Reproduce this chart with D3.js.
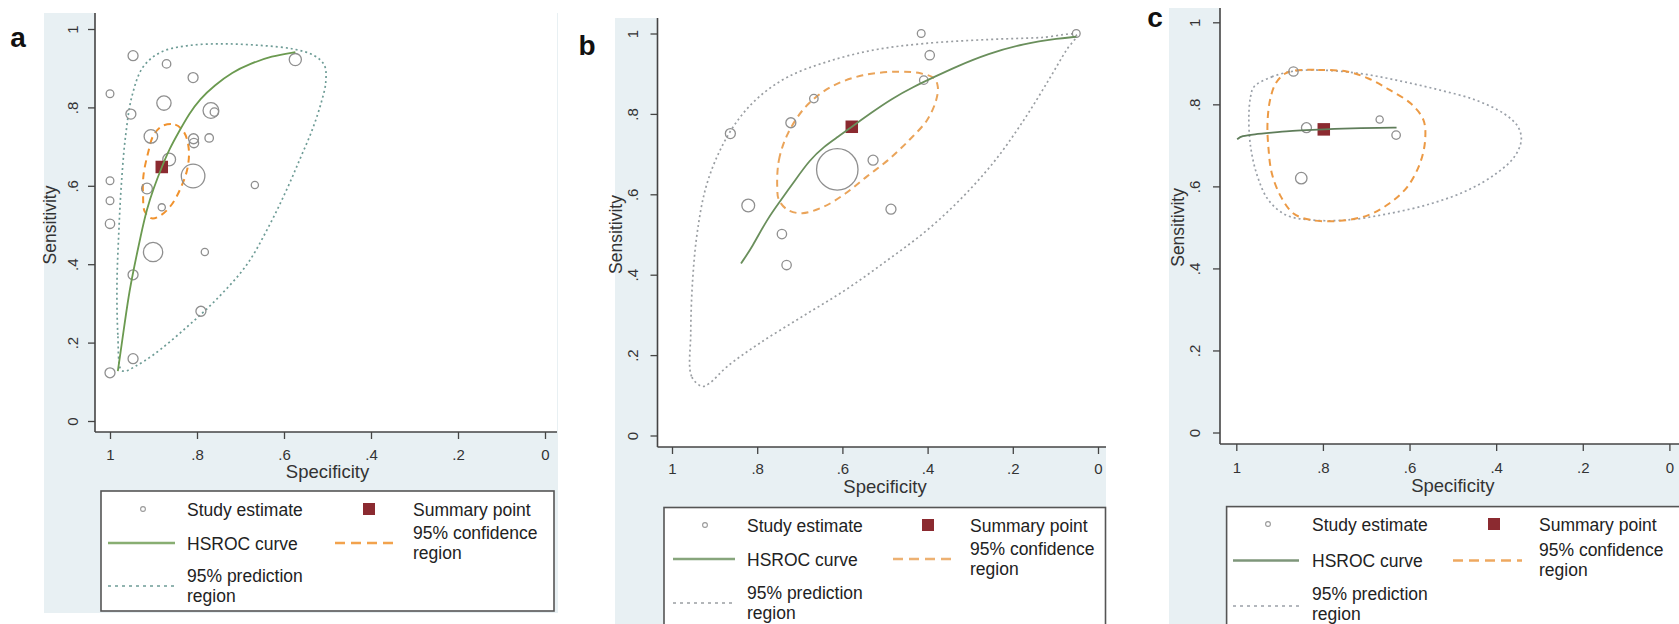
<!DOCTYPE html>
<html>
<head>
<meta charset="utf-8">
<script src="https://cdn.jsdelivr.net/npm/d3@7"></script>
<style>
  body { margin: 0; background: #ffffff; }
  svg { display: block; font-family: "Liberation Sans", Arial, sans-serif; }
</style>
</head>
<body>
<svg id="chart" width="1679" height="624"></svg>
<script>
// ---------------- shared labels ----------------
const tickValues = [0, 0.2, 0.4, 0.6, 0.8, 1];
const tickLabels = ["0", ".2", ".4", ".6", ".8", "1"];
const xTitle = "Specificity";
const yTitle = "Sensitivity";
const panelLabels = ["a", "b", "c"];
const legendStudy = "Study estimate";
const legendSummary = "Summary point";
const legendHsroc = "HSROC curve";
const legendConf = ["95% confidence", "region"];
const legendPred = ["95% prediction", "region"];

// ---------------- panel a data ----------------
const aStudySpec = [0.947,0.870,0.809,0.574,1.000,0.876,0.952,0.768,0.760,0.906,0.808,0.807,0.772,0.864,0.809,0.915,1.000,1.000,1.000,0.881,0.667,0.901,0.782,0.947,0.791,0.947,1.000];
const aStudySens = [0.932,0.911,0.876,0.922,0.835,0.811,0.783,0.792,0.788,0.726,0.720,0.709,0.722,0.667,0.625,0.593,0.613,0.562,0.503,0.545,0.602,0.431,0.431,0.373,0.280,0.159,0.123];
const aStudyWeight = [25,18,25,37,15,51,25,62,18,46,25,22,18,41,139,29,15,15,22,13,13,93,13,25,25,25,25];
const aSummary = [0.881, 0.648];
const aCurveSpec = [0.982,0.970,0.957,0.945,0.929,0.915,0.900,0.881,0.863,0.842,0.818,0.793,0.760,0.719,0.678,0.629,0.574];
const aCurveSens = [0.127,0.220,0.322,0.390,0.475,0.542,0.593,0.648,0.695,0.737,0.784,0.822,0.856,0.890,0.911,0.931,0.941];
const aConfSpec = [0.879,0.850,0.830,0.819,0.822,0.838,0.859,0.883,0.904,0.920,0.924,0.923,0.912,0.900];
const aConfSens = [0.753,0.756,0.737,0.695,0.644,0.593,0.551,0.525,0.517,0.534,0.576,0.627,0.686,0.729];
const aPredSpec = [0.975,0.982,0.984,0.980,0.974,0.964,0.949,0.924,0.883,0.818,0.735,0.653,0.579,0.530,0.507,0.504,0.514,0.534,0.563,0.596,0.637,0.686,0.752,0.826,0.900,0.941,0.966];
const aPredSens = [0.131,0.220,0.347,0.475,0.602,0.729,0.831,0.903,0.941,0.958,0.962,0.958,0.949,0.932,0.907,0.864,0.814,0.746,0.669,0.585,0.492,0.398,0.314,0.237,0.169,0.140,0.127];

// ---------------- panel b data ----------------
const bStudySpec = [0.415,0.051,0.395,0.409,0.667,0.721,0.863,0.612,0.528,0.821,0.486,0.742,0.731];
const bStudySens = [1.000,1.000,0.946,0.884,0.838,0.778,0.751,0.662,0.685,0.572,0.563,0.501,0.424];
const bStudyWeight = [15,15,22,18,18,25,25,429,25,41,25,22,22];
const bSummary = [0.578, 0.768];
const bCurveSpec = [0.838,0.811,0.778,0.744,0.711,0.677,0.644,0.610,0.578,0.535,0.484,0.434,0.384,0.334,0.258,0.174,0.091,0.051];
const bCurveSens = [0.428,0.470,0.536,0.586,0.635,0.685,0.718,0.743,0.768,0.801,0.838,0.867,0.892,0.917,0.950,0.975,0.988,0.992];
const bConfSpec = [0.753,0.749,0.728,0.686,0.627,0.552,0.468,0.417,0.384,0.376,0.380,0.401,0.443,0.493,0.543,0.593,0.644,0.694,0.728,0.749];
const bConfSens = [0.619,0.685,0.751,0.818,0.867,0.896,0.905,0.901,0.888,0.867,0.834,0.785,0.735,0.685,0.644,0.602,0.569,0.553,0.561,0.586];
const bPredSpec = [0.929,0.954,0.956,0.952,0.941,0.920,0.887,0.845,0.795,0.728,0.635,0.526,0.409,0.258,0.132,0.051,0.074,0.116,0.174,0.241,0.317,0.401,0.493,0.593,0.694,0.795,0.870,0.912];
const bPredSens = [0.122,0.147,0.254,0.379,0.503,0.619,0.710,0.785,0.843,0.892,0.930,0.959,0.975,0.985,0.990,0.996,0.959,0.884,0.785,0.685,0.594,0.511,0.437,0.362,0.296,0.229,0.172,0.130];

// ---------------- panel c data ----------------
const cStudySpec = [0.868,0.838,0.669,0.631,0.850];
const cStudySens = [0.880,0.743,0.763,0.725,0.620];
const cStudyWeight = [22,25,13,18,33];
const cSummary = [0.798, 0.739];
const cCurveSpec = [0.998,0.988,0.959,0.918,0.877,0.838,0.798,0.753,0.712,0.671,0.630];
const cCurveSens = [0.715,0.723,0.727,0.731,0.735,0.737,0.739,0.741,0.742,0.743,0.743];
const cConfSpec = [0.868,0.811,0.745,0.695,0.646,0.597,0.568,0.564,0.576,0.605,0.646,0.695,0.761,0.827,0.868,0.897,0.918,0.926,0.928,0.922,0.909,0.889];
const cConfSens = [0.882,0.884,0.880,0.863,0.835,0.802,0.762,0.713,0.656,0.599,0.559,0.530,0.516,0.518,0.534,0.575,0.632,0.697,0.754,0.811,0.851,0.874];
const cPredSpec = [0.959,0.918,0.860,0.778,0.695,0.613,0.531,0.449,0.383,0.350,0.342,0.358,0.399,0.465,0.547,0.646,0.745,0.827,0.885,0.926,0.951,0.967,0.971,0.967];
const cPredSens = [0.843,0.867,0.882,0.882,0.872,0.855,0.835,0.811,0.778,0.746,0.713,0.672,0.632,0.591,0.559,0.534,0.518,0.518,0.530,0.567,0.624,0.697,0.770,0.819];

// ---------------- layout (positions / styles only) ----------------
const BG = "#e8f0f3";
const LEG_FONT = 17.5;
const layouts = [
  { label: {x: 18, y: 47},
    bg: [44, 13, 558, 613], plot: [95, 13, 557, 432],
    xr: [110, 545], yr: [421, 29],
    yLblD: 17, xLblDy: 28, xTitleY: 478, yTitleX: 56,
    conf: "#f0922e", pred: "#6e9c96", hsroc: "#6b9a50",
    leg: { box: [101, 491, 554, 611], sym1: 143, txt1: 187, sym2: 369, txt2: 413,
           lineX: [108, 175], dashX: [335, 397], symY: 509, r1: 516, r2: 550,
           c1: 539, c2: 559, p1: 582, p2: 602, lineY: 543, predY: 586 } },
  { label: {x: 587, y: 55},
    bg: [615, 18, 1106, 624], plot: [657.5, 18, 1106, 447],
    xr: [672, 1098], yr: [435.5, 33.5],
    yLblD: 20, xLblDy: 27, xTitleY: 493, yTitleX: 622,
    conf: "#eaa45a", pred: "#9a9ea2", hsroc: "#6a8f5c",
    leg: { box: [664, 507.5, 1105.5, 632], sym1: 705, txt1: 747, sym2: 928, txt2: 970,
           lineX: [673, 735], dashX: [893, 953], symY: 525, r1: 532, r2: 566,
           c1: 555, c2: 575, p1: 599, p2: 619, lineY: 559, predY: 603 } },
  { label: {x: 1155, y: 27},
    bg: [1169, 8, 1679, 624], plot: [1220, 8, 1679, 444],
    xr: [1236.3, 1669.4], yr: [432.5, 22.3],
    yLblD: 20, xLblDy: 29, xTitleY: 492, yTitleX: 1184,
    conf: "#ec9a45", pred: "#9aa0a8", hsroc: "#5f7d5a",
    leg: { box: [1226.6, 506.6, 1682, 632], sym1: 1268, txt1: 1312, sym2: 1494, txt2: 1539,
           lineX: [1233, 1299], dashX: [1453, 1522], symY: 524, r1: 531, r2: 567,
           c1: 556, c2: 576, p1: 600, p2: 620, lineY: 560.5, predY: 606 } }
];

const panels = [
  { study: [aStudySpec, aStudySens, aStudyWeight], summary: aSummary,
    curve: [aCurveSpec, aCurveSens], confR: [aConfSpec, aConfSens], predR: [aPredSpec, aPredSens] },
  { study: [bStudySpec, bStudySens, bStudyWeight], summary: bSummary,
    curve: [bCurveSpec, bCurveSens], confR: [bConfSpec, bConfSens], predR: [bPredSpec, bPredSens] },
  { study: [cStudySpec, cStudySens, cStudyWeight], summary: cSummary,
    curve: [cCurveSpec, cCurveSens], confR: [cConfSpec, cConfSens], predR: [cPredSpec, cPredSens] }
];

// ---------------- drawing ----------------
const svg = d3.select("#chart");
const fmt = d => tickLabels[tickValues.indexOf(d)];
const rScale = d3.scaleSqrt().domain([0, 100]).range([0, 10]);
const zip = (xs, ys) => xs.map((v, i) => [v, ys[i]]);

panels.forEach((p, i) => {
  const L = layouts[i];
  const g = svg.append("g");

  g.append("rect").attr("x", L.bg[0]).attr("y", L.bg[1])
    .attr("width", L.bg[2] - L.bg[0]).attr("height", L.bg[3] - L.bg[1]).attr("fill", BG);
  g.append("rect").attr("x", L.plot[0]).attr("y", L.plot[1])
    .attr("width", L.plot[2] - L.plot[0]).attr("height", L.plot[3] - L.plot[1]).attr("fill", "#ffffff");

  g.append("text").attr("x", L.label.x).attr("y", L.label.y)
    .attr("text-anchor", "middle").attr("font-size", 28).attr("font-weight", "bold")
    .attr("fill", "#111").text(panelLabels[i]);

  const x = d3.scaleLinear().domain([1, 0]).range(L.xr);
  const y = d3.scaleLinear().domain([0, 1]).range(L.yr);

  // x axis
  const xa = g.append("g").attr("transform", `translate(0,${L.plot[3]})`)
    .call(d3.axisBottom(x).tickValues(tickValues).tickFormat(fmt).tickSize(7).tickSizeOuter(0));
  xa.attr("font-family", null).attr("font-size", null);
  xa.select(".domain").remove();
  xa.selectAll(".tick line").attr("stroke", "#444").attr("stroke-width", 1.3);
  xa.selectAll(".tick text").attr("y", L.xLblDy).attr("dy", 0)
    .attr("font-size", 15).attr("fill", "#333");

  // y axis
  const ya = g.append("g").attr("transform", `translate(${L.plot[0]},0)`)
    .call(d3.axisLeft(y).tickValues(tickValues).tickFormat(fmt).tickSize(7).tickSizeOuter(0));
  ya.attr("font-family", null).attr("font-size", null);
  ya.select(".domain").remove();
  ya.selectAll(".tick line").attr("stroke", "#444").attr("stroke-width", 1.3);
  ya.selectAll(".tick text").attr("transform", "rotate(-90)")
    .attr("x", 0).attr("y", -L.yLblD).attr("dy", 0).attr("text-anchor", "middle")
    .attr("font-size", 15).attr("fill", "#333");

  // axis lines
  g.append("line").attr("x1", L.plot[0]).attr("x2", L.plot[2]).attr("y1", L.plot[3]).attr("y2", L.plot[3])
    .attr("stroke", "#444").attr("stroke-width", 1.6);
  g.append("line").attr("x1", L.plot[0]).attr("x2", L.plot[0]).attr("y1", L.plot[1]).attr("y2", L.plot[3])
    .attr("stroke", "#444").attr("stroke-width", 1.6);

  // titles
  g.append("text").attr("x", (L.xr[0] + L.xr[1]) / 2).attr("y", L.xTitleY)
    .attr("text-anchor", "middle").attr("font-size", 18.5).attr("fill", "#333").text(xTitle);
  g.append("text").attr("transform", `translate(${L.yTitleX},${(L.yr[0] + L.yr[1]) / 2}) rotate(-90)`)
    .attr("text-anchor", "middle").attr("font-size", 17.5).attr("fill", "#333").text(yTitle);

  const line = d3.line().x(d => x(d[0])).y(d => y(d[1]));

  // prediction region
  g.append("path").datum(zip(p.predR[0], p.predR[1]))
    .attr("d", line.curve(d3.curveCatmullRomClosed.alpha(0.5)))
    .attr("fill", "none").attr("stroke", L.pred).attr("stroke-width", 1.7)
    .attr("stroke-dasharray", "2,3");

  // confidence region
  g.append("path").datum(zip(p.confR[0], p.confR[1]))
    .attr("d", line.curve(d3.curveCatmullRomClosed.alpha(0.5)))
    .attr("fill", "none").attr("stroke", L.conf).attr("stroke-width", 2)
    .attr("stroke-dasharray", "7,5");

  // study estimates
  const studies = p.study[0].map((s, k) => ({ s, e: p.study[1][k], w: p.study[2][k] }));
  g.append("g").selectAll("circle").data(studies).join("circle")
    .attr("cx", d => x(d.s)).attr("cy", d => y(d.e)).attr("r", d => rScale(d.w))
    .attr("fill", "none").attr("stroke", "#8f8f8f").attr("stroke-width", 1.3);

  // summary point
  const sq = 12.5;
  g.append("rect").datum(p.summary)
    .attr("x", d => x(d[0]) - sq / 2).attr("y", d => y(d[1]) - sq / 2)
    .attr("width", sq).attr("height", sq).attr("fill", "#8b2a30");

  // HSROC curve
  g.append("path").datum(zip(p.curve[0], p.curve[1]))
    .attr("d", line.curve(d3.curveBasis))
    .attr("fill", "none").attr("stroke", L.hsroc).attr("stroke-width", 1.8);

  // legend
  const lg = L.leg;
  const leg = g.append("g");
  leg.append("rect").attr("x", lg.box[0]).attr("y", lg.box[1])
    .attr("width", lg.box[2] - lg.box[0]).attr("height", lg.box[3] - lg.box[1])
    .attr("fill", "#ffffff").attr("stroke", "#555").attr("stroke-width", 1.6);
  leg.append("circle").attr("cx", lg.sym1).attr("cy", lg.symY).attr("r", 2.4)
    .attr("fill", "none").attr("stroke", "#999").attr("stroke-width", 1.1);
  leg.append("rect").attr("x", lg.sym2 - 6).attr("y", lg.symY - 6).attr("width", 12).attr("height", 12)
    .attr("fill", "#8b2a30");
  leg.append("line").attr("x1", lg.lineX[0]).attr("x2", lg.lineX[1]).attr("y1", lg.lineY).attr("y2", lg.lineY)
    .attr("stroke", L.hsroc).attr("stroke-width", 2.6).attr("opacity", 0.8);
  leg.append("line").attr("x1", lg.dashX[0]).attr("x2", lg.dashX[1]).attr("y1", lg.lineY).attr("y2", lg.lineY)
    .attr("stroke", L.conf).attr("stroke-width", 2.4).attr("stroke-dasharray", "10,6").attr("opacity", 0.85);
  leg.append("line").attr("x1", lg.lineX[0]).attr("x2", lg.lineX[1]).attr("y1", lg.predY).attr("y2", lg.predY)
    .attr("stroke", L.pred).attr("stroke-width", 1.4).attr("stroke-dasharray", "3,4");

  const lt = (tx, ty, s) => leg.append("text").attr("x", tx).attr("y", ty)
    .attr("font-size", LEG_FONT).attr("fill", "#222").text(s);
  lt(lg.txt1, lg.r1, legendStudy);
  lt(lg.txt2, lg.r1, legendSummary);
  lt(lg.txt1, lg.r2, legendHsroc);
  lt(lg.txt2, lg.c1, legendConf[0]);
  lt(lg.txt2, lg.c2, legendConf[1]);
  lt(lg.txt1, lg.p1, legendPred[0]);
  lt(lg.txt1, lg.p2, legendPred[1]);
});
</script>
</body>
</html>
